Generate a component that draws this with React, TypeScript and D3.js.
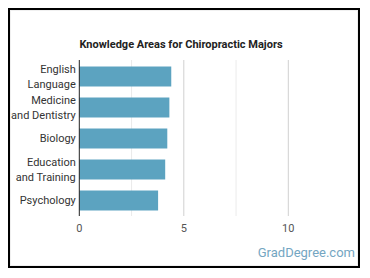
import React from "react";
import * as d3 from "d3";

const categories: string[][] = [
  ["English", "Language"],
  ["Medicine", "and Dentistry"],
  ["Biology"],
  ["Education", "and Training"],
  ["Psychology"],
];
const values: number[] = [4.4, 4.31, 4.21, 4.11, 3.77];
const majorTicks: number[] = [0, 5, 10];
const minorTicks: number[] = [2.5, 7.5];
const title = "Knowledge Areas for Chiropractic Majors";
const watermark = "GradDegree.com";

const W = 352;
const H = 260;
const FONT = "Roboto, 'Noto Sans', sans-serif";

export default function App() {
  const x = d3.scaleLinear().domain([0, 12.5]).range([71.3, 332.55]);
  const keys = categories.map((c) => c.join(" "));
  const y = d3
    .scaleBand<string>()
    .domain(keys)
    .range([53, 208])
    .paddingInner(0.355)
    .paddingOuter(0.1775);
  const [gTop, gBot] = [52, 208];

  return (
    <svg width={W} height={H} style={{ display: "block" }}>
      <rect x={0} y={0} width={W} height={H} fill="#fff" />
      <rect x={2.5} y={2.5} width={W - 5} height={H - 5} fill="none" stroke="#f0f0f0" strokeWidth={1} />
      <rect x={1} y={1} width={W - 2} height={H - 2} fill="none" stroke="#000" strokeWidth={2} />
      <text
        x={173}
        y={39.5}
        textAnchor="middle"
        fontFamily={FONT}
        fontWeight="bold"
        fontSize={11}
        fill="#222"
      >
        {title}
      </text>
      {minorTicks.map((t) => (
        <line key={"m" + t} x1={x(t)} x2={x(t)} y1={gTop} y2={gBot} stroke="#ebebeb" strokeWidth={1} />
      ))}
      {majorTicks.filter((t) => t !== 0).map((t) => (
        <line key={"M" + t} x1={x(t)} x2={x(t)} y1={gTop} y2={gBot} stroke="#d0d0d0" strokeWidth={1} />
      ))}
      {values.map((v, i) => (
        <rect
          key={keys[i]}
          x={x(0)}
          y={y(keys[i])}
          width={x(v) - x(0)}
          height={y.bandwidth()}
          fill="#5ca3c0"
        />
      ))}
      <line x1={x(0)} x2={x(0)} y1={gTop} y2={gBot} stroke="#222" strokeWidth={1} />
      {categories.map((lines, i) => {
        const cy = (y(keys[i]) as number) + y.bandwidth() / 2;
        const lh = 14.3;
        const start = cy - ((lines.length - 1) * lh) / 2;
        return (
          <text
            key={keys[i]}
            x={x(0) - 3.5}
            textAnchor="end"
            fontFamily={FONT}
            fontSize={11}
            fill="#333"
          >
            {lines.map((l, j) => (
              <tspan key={j} x={x(0) - 3.5} y={start + j * lh} dy="0.35em">
                {l}
              </tspan>
            ))}
          </text>
        );
      })}
      {majorTicks.map((t) => (
        <text
          key={"t" + t}
          x={x(t)}
          y={220}
          dy="0.35em"
          textAnchor="middle"
          fontFamily={FONT}
          fontSize={11}
          fill="#555"
        >
          {t}
        </text>
      ))}
      <text
        x={347}
        y={249}
        textAnchor="end"
        fontFamily={FONT}
        fontSize={13}
        fill="#74a6c2"
      >
        {watermark}
      </text>
    </svg>
  );
}
